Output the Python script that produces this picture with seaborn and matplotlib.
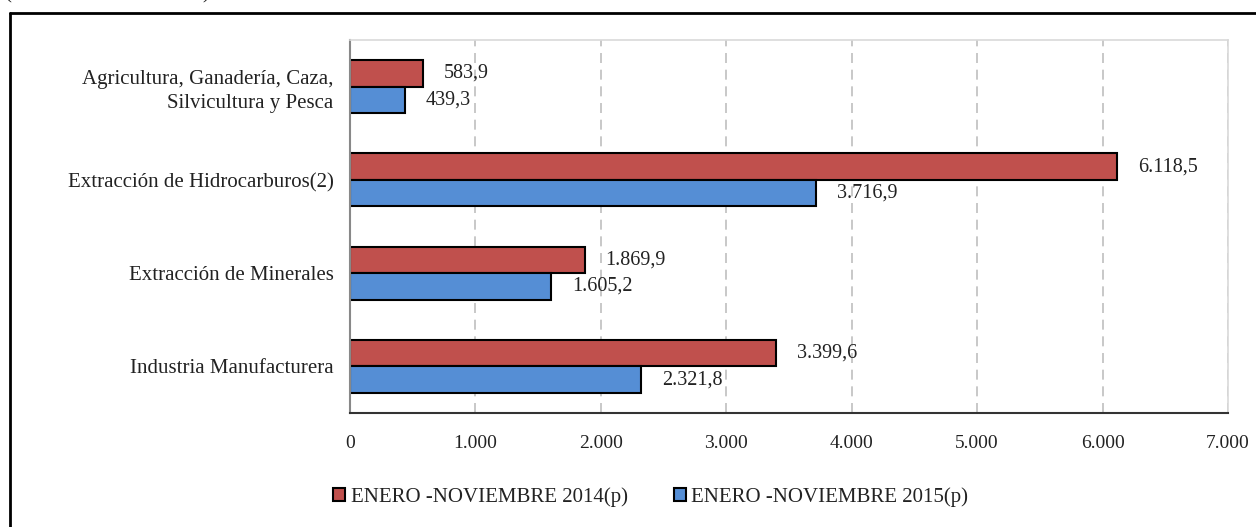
import matplotlib
matplotlib.use("Agg")
import matplotlib.pyplot as plt
import seaborn as sns
import pandas as pd
from matplotlib.patches import Patch
from matplotlib.lines import Line2D

categories = [
    "Agricultura, Ganadería, Caza,\nSilvicultura y Pesca",
    "Extracción de Hidrocarburos(2)",
    "Extracción de Minerales",
    "Industria Manufacturera",
]
series_names = ["ENERO -NOVIEMBRE 2014(p)", "ENERO -NOVIEMBRE 2015(p)"]
values_2014 = [583.9, 6118.5, 1869.9, 3399.6]
values_2015 = [439.3, 3716.9, 1605.2, 2321.8]
x_ticks = [0, 1000, 2000, 3000, 4000, 5000, 6000, 7000]
colors = ["#C0504D", "#558ED5"]


def fmt(v, dec=1):
    s = f"{v:,.{dec}f}"
    return s.replace(",", "X").replace(".", ",").replace("X", ".")


df = pd.DataFrame({
    "Sector": categories * 2,
    "Serie": [series_names[0]] * 4 + [series_names[1]] * 4,
    "Valor": values_2014 + values_2015,
})

sns.set_style("white")
plt.rcParams["font.family"] = ["Liberation Serif", "DejaVu Serif"]

fig = plt.figure(figsize=(12.56, 5.27), dpi=100)
ax = fig.add_axes([0.2787, 0.2163, 0.699, 0.7078])

sns.barplot(data=df, y="Sector", x="Valor", hue="Serie", hue_order=series_names,
            order=categories, palette=colors, orient="h", width=0.57,
            edgecolor="black", linewidth=1.5, ax=ax, legend=False, saturation=1)

# value labels
for cont, vals in zip(ax.containers, [values_2014, values_2015]):
    ax.bar_label(cont, labels=[fmt(v) for v in vals], padding=15, fontsize=14.5,
                 color="#222222")

ax.set_xlim(0, 7000)
ax.set_ylim(3.5, -0.5)
ax.set_xticks(x_ticks)
ax.set_xticklabels([fmt(t, 0) for t in x_ticks], fontsize=14, color="#222222")
ax.tick_params(axis="x", length=5, width=1.2, color="black", pad=11)
ax.tick_params(axis="y", which="major", length=0, labelsize=15, pad=12,
               labelcolor="#222222")
for lbl in ax.get_yticklabels():
    lbl.set_linespacing(1.35)
ax.set_yticks([-0.5, 0.5, 1.5, 2.5, 3.5], minor=True)
ax.tick_params(axis="y", which="minor", length=5, color="#888888", width=1.2)
ax.set_xlabel("")
ax.set_ylabel("")

ax.grid(axis="x", color="#BFBFBF", linestyle=(0, (6, 4)), linewidth=1.2)
ax.set_axisbelow(True)
for side in ["top", "right"]:
    ax.spines[side].set_color("#D9D9D9")
    ax.spines[side].set_linewidth(1.2)
ax.spines["left"].set_color("#888888")
ax.spines["left"].set_linewidth(1.5)
ax.spines["bottom"].set_color("#333333")
ax.spines["bottom"].set_linewidth(1.5)

handles = [Patch(facecolor=c, edgecolor="black", linewidth=1.5) for c in colors]
fig.legend(handles, series_names, loc="center", bbox_to_anchor=(0.518, 0.057),
           ncol=2, frameon=False, fontsize=15, handlelength=0.6, handleheight=0.6,
           handletextpad=0.25, columnspacing=2.2, labelcolor="#222222")

# outer frame (only left and top visible)
fig.add_artist(Line2D([0.0076, 0.0076], [-0.1, 0.9753], color="black", linewidth=2,
                      transform=fig.transFigure))
fig.add_artist(Line2D([0.0076, 1.1], [0.9753, 0.9753], color="black", linewidth=2,
                      transform=fig.transFigure))
fig.text(0.004, 1.012, "(En millones de dólares)", fontsize=15, va="center",
         ha="left", color="#222222")

fig.savefig("out.png", dpi=100)
